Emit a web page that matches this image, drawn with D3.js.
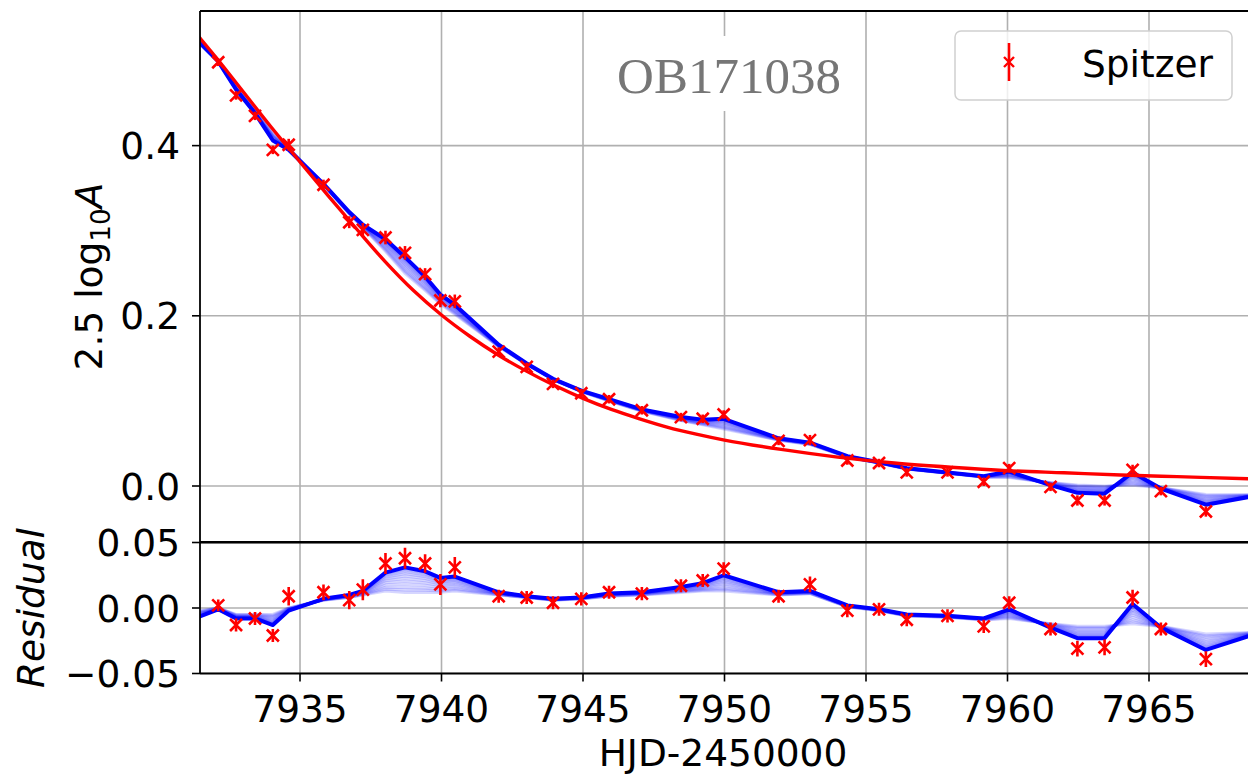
<!DOCTYPE html>
<html>
<head>
<meta charset="utf-8">
<script src="https://cdn.jsdelivr.net/npm/d3@7"></script>
<style>
  html, body { margin: 0; padding: 0; background: #fff; }
  svg { display: block; }
  text { font-family: "DejaVu Sans", sans-serif; }
</style>
</head>
<body>
<svg id="chart" width="1248" height="775"></svg>
<script>
// Spitzer photometry of OB171038 (HJD-2450000)
const days = [7932.11, 7932.74, 7933.41, 7934.04, 7934.60, 7935.83, 7936.74, 7937.22, 7938.02, 7938.71,
              7939.42, 7939.96, 7940.47, 7942.02, 7943.01, 7943.94, 7944.94, 7945.92, 7947.08, 7948.46,
              7949.23, 7949.97, 7951.91, 7953.02, 7954.34, 7955.46, 7956.44, 7957.88, 7959.16, 7960.06,
              7961.52, 7962.47, 7963.43, 7964.42, 7965.42, 7967.01];
// 2.5 log10 A
const mag = [0.498, 0.459, 0.435, 0.395, 0.401, 0.354, 0.310, 0.301, 0.292, 0.274,
             0.249, 0.218, 0.217, 0.158, 0.140, 0.120, 0.109, 0.102, 0.089, 0.081,
             0.079, 0.084, 0.053, 0.054, 0.030, 0.027, 0.016, 0.016, 0.005, 0.021,
             -0.001, -0.017, -0.017, 0.019, -0.006, -0.030];
const magErr = [0.0045, 0.005, 0.005, 0.005, 0.007, 0.006, 0.007, 0.008, 0.008, 0.008,
                0.007, 0.008, 0.008, 0.005, 0.005, 0.005, 0.005, 0.005, 0.005, 0.005,
                0.005, 0.005, 0.005, 0.006, 0.005, 0.005, 0.005, 0.005, 0.005, 0.005,
                0.005, 0.006, 0.006, 0.006, 0.005, 0.006];
// data minus point-lens model
const resid = [0.002, -0.013, -0.008, -0.021, 0.009, 0.012, 0.006, 0.014, 0.034, 0.038,
               0.034, 0.018, 0.031, 0.009, 0.008, 0.004, 0.007, 0.012, 0.011, 0.017,
               0.021, 0.030, 0.009, 0.018, -0.002, -0.001, -0.009, -0.006, -0.014, 0.004,
               -0.016, -0.031, -0.030, 0.008, -0.016, -0.039];

// Point-lens model curve (red)
const pointLensDays = [7931.0, 7931.45, 7932, 7933, 7934, 7935, 7936, 7937, 7938, 7939, 7940, 7941, 7942,
                       7943, 7944, 7945, 7946, 7947, 7948, 7949, 7950, 7952, 7954, 7956, 7958,
                       7960, 7962, 7964, 7966, 7968.5, 7969.6];
const pointLensMag = [0.546, 0.527, 0.505, 0.463, 0.421, 0.381, 0.341, 0.302, 0.264, 0.230, 0.201, 0.176, 0.154,
                      0.135, 0.118, 0.103, 0.090, 0.079, 0.069, 0.061, 0.054, 0.043, 0.034, 0.027, 0.022,
                      0.018, 0.0155, 0.013, 0.011, 0.0085, 0.0078];

// Flexible fit (blue): best model evaluated at the epochs, plus the outer edge of the posterior fan
const fitDays = [7930.9, 7932.11, 7932.74, 7933.41, 7934.04, 7934.60, 7935.83, 7936.74, 7937.22, 7938.02, 7938.71,
                 7939.42, 7939.96, 7940.47, 7942.02, 7943.01, 7943.94, 7944.94, 7945.92, 7947.08, 7948.46,
                 7949.23, 7949.97, 7951.91, 7953.02, 7954.34, 7955.46, 7956.44, 7957.88, 7959.16, 7960.06,
                 7961.52, 7962.47, 7963.43, 7964.42, 7965.42, 7967.01, 7969.6];
const fitMag = [0.539, 0.499, 0.466, 0.438, 0.406, 0.395, 0.355, 0.322, 0.307, 0.290, 0.269,
                0.246, 0.225, 0.213, 0.166, 0.144, 0.126, 0.112, 0.102, 0.090, 0.081,
                0.078, 0.079, 0.056, 0.051, 0.035, 0.028, 0.021, 0.016, 0.0115, 0.017,
                0.001, -0.008, -0.009, 0.016, -0.003, -0.022, -0.0065];
const fitRes = [-0.011, -0.001, -0.008, -0.008, -0.013, -0.002, 0.007, 0.010, 0.013, 0.027, 0.031,
                0.028, 0.023, 0.024, 0.012, 0.009, 0.007, 0.008, 0.011, 0.012, 0.016,
                0.019, 0.025, 0.012, 0.013, 0.002, -0.001, -0.005, -0.006, -0.008, -0.001,
                -0.015, -0.023, -0.023, 0.003, -0.015, -0.032, -0.014];
const fitResEdge = [-0.004, 0.000, -0.005, -0.005, -0.005, 0.000, 0.006, 0.008, 0.010, 0.013, 0.012,
                    0.012, 0.012, 0.013, 0.010, 0.008, 0.006, 0.007, 0.009, 0.010, 0.012,
                    0.013, 0.013, 0.010, 0.011, 0.001, -0.002, -0.006, -0.007, -0.009, -0.008,
                    -0.012, -0.014, -0.014, -0.012, -0.014, -0.020, -0.018];
// position of each drawn sample inside the fan (0 = best model, 1 = edge)
const fanWeights = [0.04, 0.1, 0.17, 0.25, 0.34, 0.44, 0.55, 0.67, 0.8, 0.9, 1.0];

const xTicks = [7935, 7940, 7945, 7950, 7955, 7960, 7965];
const yTicksTop = [0.0, 0.2, 0.4];
const yTicksBot = [-0.05, 0.0, 0.05];
const yTickLabelsBot = ["\u22120.05", "0.00", "0.05"];

// ---------------------------------------------------------------
const svg = d3.select("#chart");
const FS = 37.5;
const left = 200, right = 1250;
const topP = { y0: 11, y1: 542 };
const botP = { y0: 542.5, y1: 673.5 };

const x = d3.scaleLinear().domain([7931.466, 7968.569]).range([left, right]);
const yTop = d3.scaleLinear().domain([-0.0658, 0.5582]).range([topP.y1, topP.y0]);
const yBot = d3.scaleLinear().domain([-0.05, 0.05]).range([botP.y1, botP.y0]);

const defs = svg.append("defs");
defs.append("clipPath").attr("id", "clipTop").append("rect")
  .attr("x", left).attr("y", topP.y0).attr("width", right - left).attr("height", topP.y1 - topP.y0);
defs.append("clipPath").attr("id", "clipBot").append("rect")
  .attr("x", left).attr("y", botP.y0).attr("width", right - left).attr("height", botP.y1 - botP.y0);

const gridColor = "#b0b0b0";
const blue = "#0000ff", red = "#ff0000";

function drawPanel(p, y, yTicks, yLabels, clipId, series) {
  const g = svg.append("g");
  const plot = g.append("g").attr("clip-path", `url(#${clipId})`);
  // grid
  plot.selectAll(".gx").data(xTicks).join("line")
    .attr("x1", d => x(d)).attr("x2", d => x(d)).attr("y1", p.y0).attr("y2", p.y1)
    .attr("stroke", gridColor).attr("stroke-width", 1.6);
  plot.selectAll(".gy").data(yTicks).join("line")
    .attr("x1", left).attr("x2", right).attr("y1", d => y(d)).attr("y2", d => y(d))
    .attr("stroke", gridColor).attr("stroke-width", 1.6);

  series(plot);

  // spines
  g.append("line").attr("x1", left).attr("x2", left).attr("y1", p.y0).attr("y2", p.y1)
    .attr("stroke", "#000").attr("stroke-width", 1.8);
  g.append("line").attr("x1", left).attr("x2", right).attr("y1", p.y0).attr("y2", p.y0)
    .attr("stroke", "#000").attr("stroke-width", 1.8);
  g.append("line").attr("x1", left).attr("x2", right).attr("y1", p.y1).attr("y2", p.y1)
    .attr("stroke", "#000").attr("stroke-width", 1.8);

  // y ticks
  g.selectAll(".ty").data(yTicks).join("line")
    .attr("x1", left - 8).attr("x2", left).attr("y1", d => y(d)).attr("y2", d => y(d))
    .attr("stroke", "#000").attr("stroke-width", 1.6);
  g.selectAll(".tyl").data(yTicks).join("text")
    .attr("x", 180).attr("y", d => y(d) + 13.6)
    .attr("text-anchor", "end").attr("font-size", FS)
    .text((d, i) => yLabels[i]);
  return g;
}

function drawData(plot, y, vals) {
  plot.selectAll(null).data(days).join("line")
    .attr("x1", d => x(d)).attr("x2", d => x(d))
    .attr("y1", (d, i) => y(vals[i] - magErr[i])).attr("y2", (d, i) => y(vals[i] + magErr[i]))
    .attr("stroke", red).attr("stroke-width", 2.6);
  plot.selectAll(null).data(days).join("path")
    .attr("transform", (d, i) => `translate(${x(d)},${y(vals[i])})`)
    .attr("d", "M-6,-6L6,6M-6,6L6,-6")
    .attr("stroke", red).attr("stroke-width", 2.6).attr("fill", "none");
}

function drawFan(plot, y, best, edgeOffset) {
  const line = d3.line().x(d => x(d[0])).y(d => y(d[1]));
  fanWeights.forEach(w => {
    const pts = fitDays.map((d, i) => [d, best[i] + w * edgeOffset[i]]);
    plot.append("path").attr("d", line(pts))
      .attr("fill", "none").attr("stroke", blue).attr("stroke-width", 3.2)
      .attr("stroke-opacity", 0.16).attr("stroke-linejoin", "round");
  });
  const pts = fitDays.map((d, i) => [d, best[i]]);
  plot.append("path").attr("d", line(pts))
    .attr("fill", "none").attr("stroke", blue).attr("stroke-width", 4)
    .attr("stroke-linejoin", "round");
}

const edgeOffset = fitDays.map((d, i) => fitResEdge[i] - fitRes[i]);

// ---- upper panel ----
drawPanel(topP, yTop, yTicksTop, yTicksTop.map(d => d.toFixed(1)), "clipTop", plot => {
  const redLine = d3.line().curve(d3.curveMonotoneX)
    .x((d, i) => x(d)).y((d, i) => yTop(pointLensMag[i]));
  drawFan(plot, yTop, fitMag, edgeOffset);
  plot.append("path").attr("d", redLine(pointLensDays))
    .attr("fill", "none").attr("stroke", red).attr("stroke-width", 3.4);
  drawData(plot, yTop, mag);
});

// ---- residual panel ----
drawPanel(botP, yBot, yTicksBot, yTickLabelsBot, "clipBot", plot => {
  drawFan(plot, yBot, fitRes, edgeOffset);
  drawData(plot, yBot, resid);
});

// x ticks + labels
svg.selectAll(".tx").data(xTicks).join("line")
  .attr("x1", d => x(d)).attr("x2", d => x(d)).attr("y1", botP.y1).attr("y2", botP.y1 + 8)
  .attr("stroke", "#000").attr("stroke-width", 1.6);
svg.selectAll(".txl").data(xTicks).join("text")
  .attr("x", d => x(d)).attr("y", 722)
  .attr("text-anchor", "middle").attr("font-size", FS)
  .text(d => d);

// axis labels
svg.append("text").attr("x", 723).attr("y", 766)
  .attr("text-anchor", "middle").attr("font-size", FS).text("HJD-2450000");

const yl = svg.append("text")
  .attr("transform", `translate(102,${(topP.y0 + topP.y1) / 2}) rotate(-90)`)
  .attr("text-anchor", "middle").attr("font-size", FS);
yl.append("tspan").text("2.5 log");
yl.append("tspan").attr("font-size", FS * 0.7).attr("dy", 8).text("10");
yl.append("tspan").attr("font-style", "italic").attr("dy", -8).text("A");

svg.append("text")
  .attr("transform", `translate(44,${(botP.y0 + botP.y1) / 2}) rotate(-90)`)
  .attr("text-anchor", "middle").attr("font-size", FS).attr("font-style", "italic")
  .text("Residual");

// event name
svg.append("rect").attr("x", 612).attr("y", 36).attr("width", 234).attr("height", 75).attr("fill", "#fff");
svg.append("text").attr("x", 729).attr("y", 93)
  .attr("text-anchor", "middle")
  .style("font-family", "'Liberation Serif', 'DejaVu Serif', serif")
  .attr("font-size", 51).attr("fill", "#767676")
  .text("OB171038");

// legend
const lg = svg.append("g");
lg.append("rect").attr("x", 955).attr("y", 31).attr("width", 277).attr("height", 69)
  .attr("rx", 6).attr("fill", "#fff").attr("fill-opacity", 0.8)
  .attr("stroke", "#d0d0d0").attr("stroke-width", 1.5);
lg.append("line").attr("x1", 1009).attr("x2", 1009).attr("y1", 43).attr("y2", 81)
  .attr("stroke", red).attr("stroke-width", 2.6);
lg.append("path").attr("transform", "translate(1009,62)")
  .attr("d", "M-5,-5L5,5M-5,5L5,-5")
  .attr("stroke", red).attr("stroke-width", 2.4).attr("fill", "none");
lg.append("text").attr("x", 1082).attr("y", 77).attr("font-size", FS).text("Spitzer");
</script>
</body>
</html>
